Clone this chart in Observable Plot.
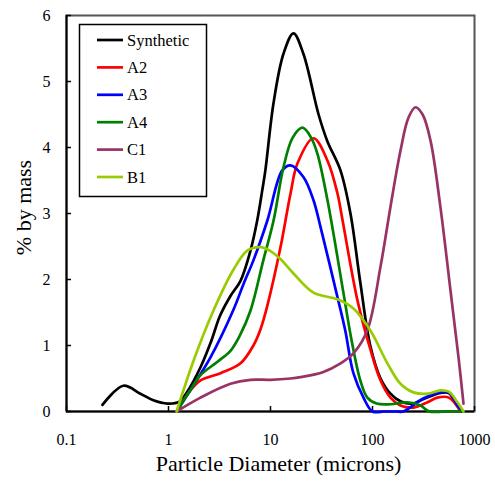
<!DOCTYPE html>
<html><head><meta charset="utf-8">
<script src="https://cdn.jsdelivr.net/npm/d3@7"></script>
<script src="https://cdn.jsdelivr.net/npm/@observablehq/plot@0.6"></script>
<style>body{margin:0;background:#fff}</style>
</head><body><div id="chart"></div>
<script>
const seriesNames = ["Synthetic", "A2", "A3", "A4", "C1", "B1"];
const seriesColors = ["#000000", "#ff0000", "#0000ff", "#008000", "#993366", "#99cc00"];
const xTicks = [0.1, 1, 10, 100, 1000];
const xTickLabels = ["0.1", "1", "10", "100", "1000"];
const yTicks = [0, 1, 2, 3, 4, 5, 6];
const xTitle = "Particle Diameter (microns)";
const yTitle = "% by mass";

// [diameter (microns), % by mass]
const synthetic = [[0.225,0.10],[0.36,0.39],[0.53,0.27],[0.71,0.17],[0.98,0.12],[1.28,0.15],[1.5,0.28],[2.06,0.67],[2.6,1.05],[3.2,1.45],[4.05,1.75],[5.08,1.98],[6.37,2.44],[7.4,2.89],[8.3,3.35],[8.9,3.65],[10.7,4.67],[13.4,5.42],[16.8,5.73],[21,5.42],[29.6,4.5],[36,4.1],[48.6,3.65],[60.8,3.0],[76,1.95],[95,1.0],[120,0.5],[150,0.27],[190,0.15],[250,0.12],[317,0.19],[464,0.28],[560,0.28],[680,0.08],[762,0]];
const a2 = [[1.2,0],[1.6,0.3],[2.06,0.47],[3.24,0.58],[5.08,0.73],[6.8,1.0],[8.0,1.25],[9.3,1.6],[12.5,2.48],[15.7,3.3],[18.4,3.76],[26.4,4.14],[36.2,3.8],[45.4,3.3],[50.8,2.9],[71.3,1.68],[95,0.95],[120,0.47],[150,0.21],[188,0.09],[252,0.06],[346,0.14],[432,0.21],[560,0.21],[730,0]];
const a3 = [[1.2,0],[1.6,0.3],[2.58,0.82],[4.3,1.53],[5.5,1.95],[6.8,2.29],[9.3,2.89],[13,3.65],[15.7,3.73],[21.1,3.55],[26.4,3.2],[31,2.79],[45.4,1.73],[54,1.23],[65,0.58],[81.6,0.21],[100,0],[130,0],[170,0],[200,0],[317,0.2],[464,0.29],[560,0.29],[680,0.09],[762,0]];
const a4 = [[1.2,0],[1.6,0.3],[2.06,0.55],[3.0,0.75],[4.05,0.92],[5.0,1.15],[6.37,1.53],[8.5,2.29],[10.7,2.89],[13.4,3.7],[16.5,4.15],[20.6,4.3],[25,4.15],[28.9,3.9],[36.2,3.2],[52,1.79],[62,1.1],[76,0.47],[89,0.21],[110,0.12],[150,0.11],[220,0.14],[296,0.09],[360,0],[500,0],[762,0]];
const c1 = [[1.2,0],[2.06,0.21],[4.05,0.42],[6.37,0.48],[10,0.48],[15.7,0.5],[19.6,0.52],[33,0.6],[48.6,0.73],[65,0.88],[89,1.23],[120,2.2],[150,3.1],[188,3.95],[225,4.45],[264,4.61],[310,4.5],[371,4.1],[464,3.09],[582,1.83],[697,0.82],[780,0.12]];
const b1 = [[1.2,0],[1.76,0.77],[2.76,1.53],[4.3,2.14],[5.96,2.44],[8,2.49],[10,2.43],[12.5,2.31],[16.8,2.09],[26.4,1.8],[45.4,1.7],[65,1.56],[95,1.23],[140,0.73],[188,0.42],[252,0.29],[346,0.27],[464,0.32],[560,0.3],[680,0.14],[780,0]];

const seriesData = [synthetic, a2, a3, a4, c1, b1];
const rows = seriesData.flatMap((pts, i) => pts.map(([d, v]) => ({series: seriesNames[i], d, v})));

const font = '"Liberation Serif", "DejaVu Serif", "Times New Roman", Times, serif';
const svg = Plot.plot({
  width: 495, height: 482,
  marginLeft: 66, marginRight: 21, marginTop: 15, marginBottom: 71,
  style: {fontFamily: font, fontSize: "16px", background: "#fff", color: "#000"},
  x: {type: "log", domain: [0.1, 1000]},
  y: {domain: [0, 6]},
  color: {domain: seriesNames, range: seriesColors},
  marks: [
    Plot.frame({stroke: "#555", strokeWidth: 2}),
    Plot.ruleX([0.1], {stroke: "#000", strokeWidth: 2}),
    Plot.ruleY([0], {stroke: "#000", strokeWidth: 2}),
    Plot.axisX({ticks: xTicks, tickSize: -5, tickFormat: () => "", label: null, strokeWidth: 1.5}),
    Plot.axisX({ticks: xTicks, tickSize: 0, tickPadding: 22, tickFormat: d => xTickLabels[xTicks.findIndex(t => Math.abs(t - d) < 1e-9)], label: null, fontSize: 16}),
    Plot.axisY({ticks: yTicks, tickSize: -5, tickFormat: () => "", label: null, strokeWidth: 1.5}),
    Plot.axisY({ticks: yTicks, tickSize: 0, tickPadding: 16, tickFormat: d => String(d), label: null, fontSize: 16}),
    Plot.line(rows, {x: "d", y: "v", z: "series", stroke: "series", strokeWidth: 2.7, curve: "catmull-rom"}),
    Plot.text([xTitle], {frameAnchor: "bottom", dy: 59, dx: 8, fontSize: 22}),
    Plot.text([yTitle], {frameAnchor: "left", textAnchor: "middle", dx: -43, dy: -6, rotate: -90, fontSize: 22})
  ]
});

const lg = d3.select(svg).append("g").attr("font-family", font).attr("font-size", 16.5).attr("text-anchor", "start");
lg.append("rect").attr("x", 79.5).attr("y", 24.5).attr("width", 127).attr("height", 172)
  .attr("fill", "#fff").attr("stroke", "#000").attr("stroke-width", 1.5);
seriesNames.forEach((name, i) => {
  const y = 40 + i * 27.4;
  lg.append("line").attr("x1", 97).attr("x2", 123).attr("y1", y).attr("y2", y)
    .attr("stroke", seriesColors[i]).attr("stroke-width", 2.7);
  lg.append("text").attr("x", 127).attr("y", y + 5.5).attr("fill", "#000").text(name);
});
document.getElementById("chart").appendChild(svg);
</script>
</body></html>
